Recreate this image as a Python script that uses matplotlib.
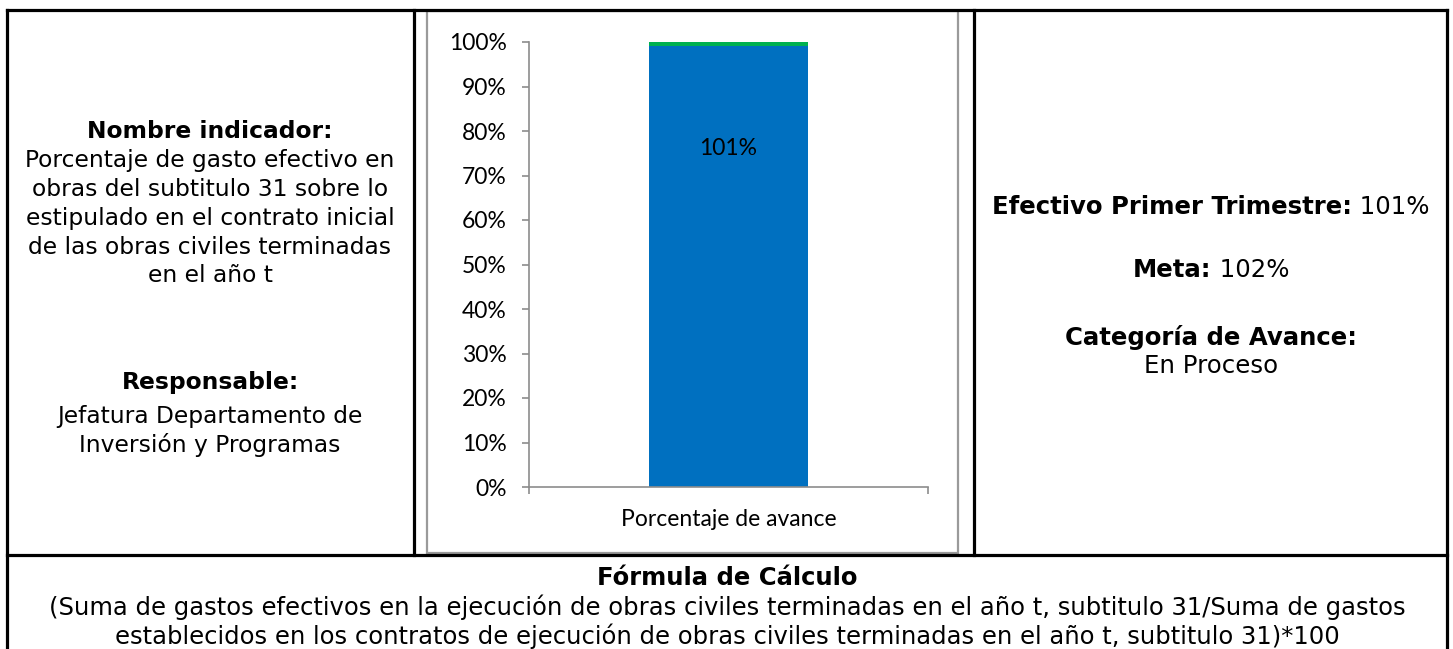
import matplotlib
matplotlib.use("Agg")
import matplotlib.pyplot as plt
from matplotlib.lines import Line2D
from matplotlib.patches import Rectangle
from matplotlib.ticker import FuncFormatter, MultipleLocator

# ---- data ----
categories = ["Porcentaje de avance"]
efectivo = [99.0]        # blue segment (%)
brecha = [2.0]           # green segment (%), clipped at 100
bar_labels = ["101%"]
y_max = 100

left_title = "Nombre indicador:"
left_desc = ["Porcentaje de gasto efectivo en", "obras del subtitulo 31 sobre lo",
             "estipulado en el contrato inicial", "de las obras civiles terminadas",
             "en el año t"]
resp_title = "Responsable:"
resp_desc = ["Jefatura Departamento de", "Inversión y Programas"]
right_items = [("Efectivo Primer Trimestre:", " 101%"), ("Meta:", " 102%")]
cat_title = "Categoría de Avance:"
cat_value = "En Proceso"
formula_title = "Fórmula de Cálculo"
formula_lines = ["(Suma de gastos efectivos en la ejecución de obras civiles terminadas en el año t, subtitulo 31/Suma de gastos",
                 "establecidos en los contratos de ejecución de obras civiles terminadas en el año t, subtitulo 31)*100"]

W, H = 1453, 649
fig = plt.figure(figsize=(W / 100, H / 100), dpi=100)
fig.patch.set_facecolor("white")


def fx(x):
    return x / W


def fy(y):
    return 1 - y / H


# ---- table borders ----
blk = dict(color="black", lw=2.3, solid_capstyle="projecting")
for (x0, y0, x1, y1) in [(7, 10, 1447, 10), (7, 10, 7, 649), (1447, 10, 1447, 649),
                         (7, 555, 1447, 555), (414, 10, 414, 555), (974, 10, 974, 555)]:
    fig.add_artist(Line2D([fx(x0), fx(x1)], [fy(y0), fy(y1)], transform=fig.transFigure, **blk))

# chart frame (gray)
fig.add_artist(Rectangle((fx(427), fy(553)), fx(958) - fx(427), fy(11) - fy(553),
                         transform=fig.transFigure, fill=False, edgecolor="#9A9A9A", lw=1.6))

# ---- chart ----
ax = fig.add_axes([fx(529), fy(487), fx(928) - fx(529), fy(42) - fy(487)])
x = list(range(len(categories)))
ax.bar(x, efectivo, width=0.4, color="#0070C0", zorder=2)
ax.bar(x, brecha, width=0.4, bottom=efectivo, color="#00B050", zorder=2)
ax.set_xlim(-0.5, 0.5)
ax.set_ylim(0, y_max)
ax.yaxis.set_major_locator(MultipleLocator(10))
ax.yaxis.set_major_formatter(FuncFormatter(lambda v, p: f"{int(round(v))}%"))
for s in ["top", "right"]:
    ax.spines[s].set_visible(False)
for s in ["left", "bottom"]:
    ax.spines[s].set_color("#8C8C8C")
    ax.spines[s].set_linewidth(1.2)
chart_font = "Lato"
CFS = 16.5
ax.tick_params(axis="y", direction="out", length=5, width=1.2, color="#8C8C8C",
               labelsize=CFS, pad=11, labelcolor="black")
for t in ax.get_yticklabels():
    t.set_fontfamily(chart_font)
ax.set_xticks(x)
ax.set_xticklabels(categories, fontsize=CFS, fontfamily=chart_font)
ax.tick_params(axis="x", length=0, pad=16)
ax.set_xticks([-0.5, 0.5], minor=True)
ax.tick_params(axis="x", which="minor", direction="out", length=5, width=1.2, color="#8C8C8C")
for xi, lab in zip(x, bar_labels):
    ax.text(xi, 0.76 * y_max, lab, ha="center", va="center", fontsize=CFS,
            fontfamily=chart_font, color="black")

# ---- texts ----
fam = "DejaVu Sans"
ls = 29


def ctext(cx, y, s, bold=False, fs=17.3):
    fig.text(fx(cx), fy(y), s, ha="center", va="center", fontsize=fs, family=fam,
             fontweight="bold" if bold else "normal")


lx = 210
LFS = 16.8
ctext(lx, 131, left_title, True, LFS)
for i, s in enumerate(left_desc):
    ctext(lx, 160 + i * ls, s, fs=LFS)
ctext(lx, 382, resp_title, True, LFS)
for i, s in enumerate(resp_desc):
    ctext(lx, 416 + i * ls, s, fs=LFS)

rx = 1211
RFS = 17.6
renderer = fig.canvas.get_renderer()
for (b, n), y in zip(right_items, [207, 270]):
    tb = fig.text(0, fy(y), b, ha="left", va="center", fontsize=RFS, family=fam, fontweight="bold")
    tn = fig.text(0, fy(y), n, ha="left", va="center", fontsize=RFS, family=fam)
    wb = tb.get_window_extent(renderer).width
    wn = tn.get_window_extent(renderer).width
    x0 = rx - (wb + wn) / 2
    tb.set_x(fx(x0))
    tn.set_x(fx(x0 + wb))
ctext(rx, 337, cat_title, True, RFS)
ctext(rx, 366, cat_value, fs=RFS)

FFS = 17.5
ctext(727, 578, formula_title, True, FFS)
for i, s in enumerate(formula_lines):
    ctext(727, 607 + i * ls, s, fs=FFS)

fig.savefig("out.png", dpi=100, facecolor="white")
